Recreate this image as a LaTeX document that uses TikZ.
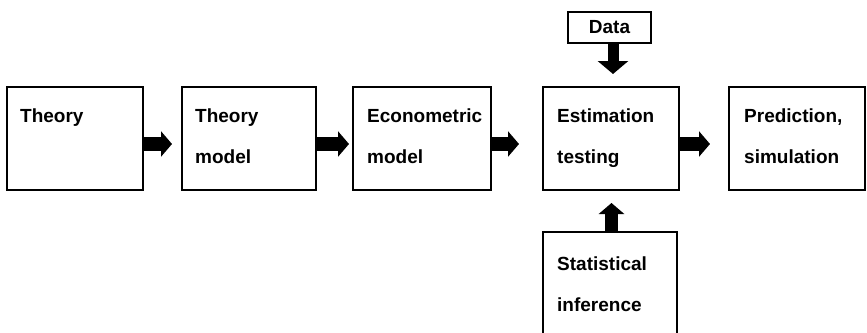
\documentclass[tikz,border=0pt]{standalone}
\usepackage{fontspec}
\setmainfont{Liberation Sans}
\usepackage{tikz}
\usetikzlibrary{arrows.meta}

\begin{document}
\begin{tikzpicture}[x=1pt,y=-1pt]
\useasboundingbox (0,0) rectangle (867,332);

\begin{scope}[every node/.style={rectangle,draw,line width=2pt,
              minimum width=136pt,minimum height=103pt,inner sep=0pt}]
    \node (Theory) at (75,138.5) {};
    \node[minimum width=134pt] (TheoryModel) at (249,138.5) {};
    \node[minimum width=138pt] (EconModel) at (422,138.5) {};
    \node (Estimation) at (611,138.5) {};
    \node (Prediction) at (797,138.5) {};
    \node[minimum width=134pt] (Statistical) at (610,283.5) {};
    \node[minimum width=83pt,minimum height=31pt,font=\bfseries\fontsize{19}{21}\selectfont] (Data) at (609.5,27.5) {Data};
\end{scope}

\begin{scope}[every node/.style={anchor=north west,inner sep=0pt,align=left,
              font=\bfseries\fontsize{19}{41}\selectfont}]
    \node (TheoryText) at ([xshift=14pt,yshift=-23pt]Theory.north west) {Theory};
    \node (TheoryModelText) at ([xshift=14pt,yshift=-23pt]TheoryModel.north west) {Theory\\model};
    \node (EconModelText) at ([xshift=15pt,yshift=-23pt]EconModel.north west) {Econometric\\model};
    \node (EstimationText) at ([xshift=15pt,yshift=-23pt]Estimation.north west) {Estimation\\testing};
    \node (PredictionText) at ([xshift=16pt,yshift=-23pt]Prediction.north west) {Prediction,\\simulation};
    \node (StatisticalText) at ([xshift=15pt,yshift=-26pt]Statistical.north west) {Statistical\\inference};
\end{scope}

\begin{scope}[every path/.style={draw,line width=14pt},
              >={Triangle[length=11pt,width=25pt]}]
    \path [->,shorten >=9pt] ([yshift=-5.5pt]Theory.east) -- ([yshift=-5.5pt]TheoryModel.west);
    \path [->,shorten >=3pt] ([yshift=-5.5pt]TheoryModel.east) -- ([yshift=-5.5pt]EconModel.west);
    \path [->,shorten >=23pt] ([yshift=-5.5pt]EconModel.east) -- ([yshift=-5.5pt]Estimation.west);
    \path [->,shorten >=18pt] ([yshift=-5.5pt]Estimation.east) -- ([yshift=-5.5pt]Prediction.west);
    \path [->,line width=11pt,>={Triangle[length=13pt,width=30pt]},shorten >=12pt]
        ([xshift=3.5pt]Data.south) -- ([xshift=2pt]Estimation.north);
    \path [->,line width=13pt,shorten >=12pt] ([xshift=1.5pt]Statistical.north) -- ([xshift=0.5pt]Estimation.south);
\end{scope}
\end{tikzpicture}
\end{document}
